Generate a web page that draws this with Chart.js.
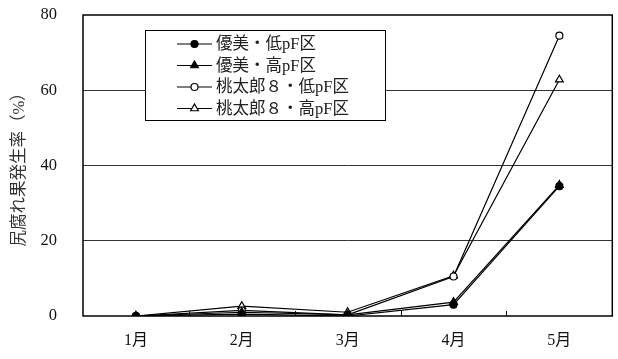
<!DOCTYPE html>
<html>
<head>
<meta charset="utf-8">
<script src="https://cdn.jsdelivr.net/npm/chart.js@4.4.1/dist/chart.umd.min.js"></script>
<style>
  html, body { margin: 0; padding: 0; background: #fff; }
  #wrap { width: 618px; height: 359px; }
</style>
</head>
<body>
<div id="wrap"><canvas id="c" width="618" height="359"></canvas></div>
<script>
// Monthly incidence of blossom-end rot (%), by cultivar and soil pF treatment
const months = ['1月', '2月', '3月', '4月', '5月'];
const yumiLow = [0, 0.5, 0, 3.0, 34.5];
const yumiHigh = [0, 1.0, 0.3, 3.7, 34.8];
const momotaroLow = [0, 1.5, 0.3, 10.5, 74.5];
const momotaroHigh = [0, 2.6, 1.0, 10.7, 62.8];
const seriesNames = ['優美・低pF区', '優美・高pF区', '桃太郎８・低pF区', '桃太郎８・高pF区'];
const yTicks = [0, 20, 40, 60, 80];

const FONT = "'Liberation Serif', 'Noto Sans CJK JP', serif";

// Frame around the plot area plus short inward ticks between months
const framePlugin = {
  id: 'frame',
  beforeDatasetsDraw(chart) {
    const { ctx, chartArea: a, scales } = chart;
    ctx.save();
    ctx.strokeStyle = '#000';
    ctx.lineWidth = 1.5;
    ctx.strokeRect(a.left, a.top, a.right - a.left, a.bottom - a.top);
    const xs = scales.x;
    ctx.lineWidth = 1;
    for (let i = 1; i < months.length; i++) {
      const x = Math.round((xs.getPixelForValue(i - 1) + xs.getPixelForValue(i)) / 2) + 0.5;
      ctx.beginPath();
      ctx.moveTo(x, a.bottom);
      ctx.lineTo(x, a.bottom - 5);
      ctx.stroke();
    }
    ctx.restore();
  }
};

// Boxed legend inside the plot area
const boxLegendPlugin = {
  id: 'boxLegend',
  afterDraw(chart) {
    const { ctx } = chart;
    const box = { x: 145.5, y: 30.5, w: 240, h: 90 };
    ctx.save();
    ctx.fillStyle = '#fff';
    ctx.fillRect(box.x, box.y, box.w, box.h);
    ctx.strokeStyle = '#000';
    ctx.lineWidth = 1;
    ctx.strokeRect(box.x, box.y, box.w, box.h);
    ctx.font = '16.5px ' + FONT;
    ctx.textBaseline = 'middle';
    chart.data.datasets.forEach((ds, i) => {
      const y = 44 + i * 21.5;
      ctx.strokeStyle = '#000';
      ctx.lineWidth = 1.2;
      ctx.beginPath();
      ctx.moveTo(177, y);
      ctx.lineTo(212, y);
      ctx.stroke();
      ctx.fillStyle = ds.pointBackgroundColor;
      ctx.strokeStyle = '#000';
      ctx.lineWidth = 1.2;
      Chart.helpers.drawPoint(ctx, {
        pointStyle: ds.pointStyle,
        radius: ds.pointRadius,
        rotation: 0,
        borderWidth: 1.2
      }, 194.5, y);
      ctx.fillStyle = '#222';
      ctx.fillText(ds.label, 216, y + 1);
    });
    ctx.restore();
  }
};

function makeSeries(label, data, style, fill, radius) {
  return {
    label, data,
    borderColor: '#000',
    borderWidth: 1.2,
    pointStyle: style,
    pointRadius: radius,
    pointHoverRadius: radius,
    pointBackgroundColor: fill,
    pointBorderColor: '#000',
    pointBorderWidth: 1.2,
    backgroundColor: fill,
    tension: 0,
    fill: false
  };
}

new Chart(document.getElementById('c'), {
  type: 'line',
  data: {
    labels: months,
    datasets: [
      makeSeries(seriesNames[0], yumiLow, 'circle', '#000', 3.5),
      makeSeries(seriesNames[1], yumiHigh, 'triangle', '#000', 4.5),
      makeSeries(seriesNames[2], momotaroLow, 'circle', '#fff', 3.5),
      makeSeries(seriesNames[3], momotaroHigh, 'triangle', '#fff', 4.5)
    ]
  },
  options: {
    responsive: false,
    animation: false,
    devicePixelRatio: 1,
    layout: { padding: { top: 15, right: 1, left: 0, bottom: 0 } },
    plugins: {
      legend: { display: false },
      tooltip: { enabled: false }
    },
    scales: {
      x: {
        type: 'category',
        offset: true,
        afterFit(scale) { scale.height = 43; },
        grid: { display: false, drawTicks: false },
        border: { display: false },
        ticks: {
          color: '#111',
          font: { family: FONT, size: 16 },
          padding: 15,
          maxRotation: 0
        }
      },
      y: {
        min: 0,
        max: 80,
        afterBuildTicks(scale) {
          scale.ticks = yTicks.map(v => ({ value: v }));
        },
        afterFit(scale) {
          scale.width = 83;
          scale.paddingTop = 0;
          scale.paddingBottom = 0;
        },
        grid: {
          drawTicks: false,
          lineWidth: 1,
          color: ctx => (ctx.tick && (ctx.tick.value === 0 || ctx.tick.value === 80)) ? 'rgba(0,0,0,0)' : '#333'
        },
        border: { display: false },
        ticks: {
          color: '#111',
          font: { family: FONT, size: 16.5 },
          padding: 26
        },
        title: {
          display: true,
          text: '尻腐れ果発生率（%）',
          color: '#333',
          font: { family: FONT, size: 16.5 },
          padding: { top: 10, bottom: 0 }
        }
      }
    }
  },
  plugins: [framePlugin, boxLegendPlugin]
});
</script>
</body>
</html>
